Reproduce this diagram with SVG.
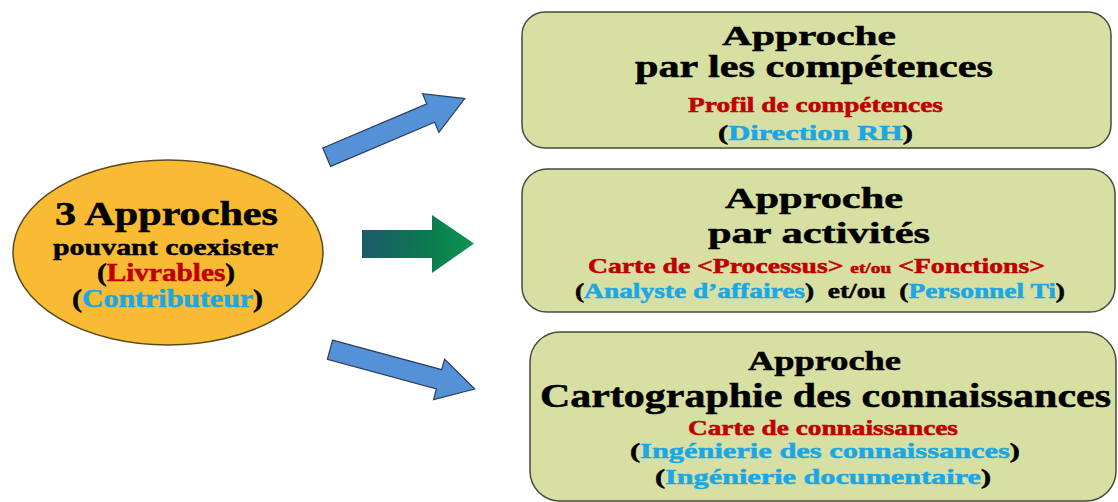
<svg xmlns="http://www.w3.org/2000/svg" width="1118" height="502" viewBox="0 0 1118 502">
<style>
text{font-family:"Liberation Serif","Times New Roman",serif;font-weight:bold;fill:#000;stroke:#000;stroke-width:0.5;}
.red{fill:#C00000;stroke:#C00000;}
.blue{fill:#1AA7E6;stroke:#1AA7E6;}
.box{fill:#D7DFA3;stroke:#4A4A40;stroke-width:1.5;}
.blueArrow{fill:#5491D6;stroke:#2B3F5C;stroke-width:1.2;stroke-linejoin:miter;}
</style>
<defs>
<linearGradient id="gArrow" x1="0" y1="0" x2="1" y2="0">
<stop offset="0" stop-color="#1D5A6C"/>
<stop offset="0.6" stop-color="#0B7A4E"/>
<stop offset="1" stop-color="#0E9553"/>
</linearGradient>
<polygon id="arrowShape" points="0,-10 113,-10 113,-21 150,0 113,21 113,10 0,10"/>
</defs>

<g id="connectors">
<g transform="translate(326.7,157.2) rotate(-23)"><use href="#arrowShape" class="blueArrow"/></g>
<polygon points="362,230 432,230 432,215 474,243.5 432,273 432,258 362,258" fill="url(#gArrow)"/>
<g transform="translate(330,349.7) rotate(15.2)"><use href="#arrowShape" class="blueArrow"/></g>
</g>

<g id="center-node">
<ellipse cx="168" cy="252.5" rx="155" ry="92.5" fill="#F8BB33" stroke="#5A4A20" stroke-width="1.5"/>
<text x="55" y="225" font-size="33" textLength="223" lengthAdjust="spacingAndGlyphs">3 Approches</text>
<text x="53" y="255" font-size="24" textLength="225" lengthAdjust="spacingAndGlyphs">pouvant coexister</text>
<text x="97" y="281" font-size="25" textLength="138" lengthAdjust="spacingAndGlyphs">(<tspan class="red">Livrables</tspan>)</text>
<text x="72" y="307" font-size="25" textLength="191" lengthAdjust="spacingAndGlyphs">(<tspan class="blue">Contributeur</tspan>)</text>
</g>

<g id="box-competences">
<rect class="box" x="522" y="12" width="589" height="136" rx="23" ry="23"/>
<text x="722" y="45" font-size="28" textLength="174" lengthAdjust="spacingAndGlyphs">Approche</text>
<text x="635" y="77" font-size="31" textLength="358" lengthAdjust="spacingAndGlyphs">par les compétences</text>
<text x="688" y="112" font-size="20" class="red" textLength="255" lengthAdjust="spacingAndGlyphs">Profil de compétences</text>
<text x="718" y="140" font-size="21" textLength="195" lengthAdjust="spacingAndGlyphs">(<tspan class="blue">Direction RH</tspan>)</text>
</g>

<g id="box-activites">
<rect class="box" x="522" y="169" width="593" height="143" rx="25" ry="25"/>
<text x="725" y="208" font-size="29" textLength="178" lengthAdjust="spacingAndGlyphs">Approche</text>
<text x="708" y="243" font-size="30" textLength="222" lengthAdjust="spacingAndGlyphs">par activités</text>
<text x="588" y="273" font-size="20" class="red" textLength="457" lengthAdjust="spacingAndGlyphs">Carte de &lt;Processus&gt; <tspan font-size="14">et/ou</tspan> &lt;Fonctions&gt;</text>
<text x="575" y="298" font-size="20" textLength="490" lengthAdjust="spacingAndGlyphs" style="white-space:pre">(<tspan class="blue">Analyste d’affaires</tspan>)  et/ou  (<tspan class="blue">Personnel Ti</tspan>)</text>
</g>

<g id="box-cartographie">
<rect class="box" x="530" y="332" width="586" height="169" rx="30" ry="30"/>
<text x="748" y="370" font-size="27" textLength="153" lengthAdjust="spacingAndGlyphs">Approche</text>
<text x="540" y="407" font-size="33" textLength="571" lengthAdjust="spacingAndGlyphs">Cartographie des connaissances</text>
<text x="688" y="435" font-size="20" class="red" textLength="270" lengthAdjust="spacingAndGlyphs">Carte de connaissances</text>
<text x="630" y="458" font-size="21" textLength="390" lengthAdjust="spacingAndGlyphs">(<tspan class="blue">Ingénierie des connaissances</tspan>)</text>
<text x="655" y="484" font-size="21" textLength="336" lengthAdjust="spacingAndGlyphs">(<tspan class="blue">Ingénierie documentaire</tspan>)</text>
</g>
</svg>
